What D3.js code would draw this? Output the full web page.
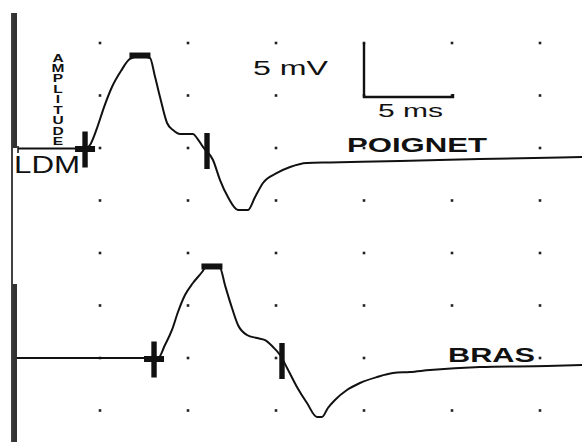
<!DOCTYPE html>
<html>
<head>
<meta charset="utf-8">
<script src="https://cdn.jsdelivr.net/npm/d3@7/dist/d3.min.js"></script>
<style>
  html, body { margin: 0; padding: 0; background: #fff; }
  svg { display: block; }
  text { font-family: "Liberation Sans", Arial, sans-serif; fill: #111; }
</style>
</head>
<body>
<div id="chart"></div>
<script>
// ---- Data ----
// Grid (one division = 5 ms horizontally, 5 mV vertically)
const gridTimes = [5, 10, 15, 20, 25, 30];            // ms
const gridLevels = [0, 5, 10, 15, 20, 25, 30, 35];     // mV below top row

// Trace labels
const traceNames = ["POIGNET", "BRAS"];
const traceOffsets = [10, 30];                         // baseline level (mV below top row)

// POIGNET trace (time ms, amplitude mV)
const poignetT = [0.34, 4.15, 4.43, 4.83, 5.23, 5.68, 6.19, 6.70, 7.27, 7.84, 8.13, 8.41, 8.81, 9.15, 9.55, 10.28, 10.51, 10.85, 11.42, 11.82, 12.27, 12.84, 13.41, 13.81, 14.26, 15.06, 15.80, 16.76, 18.07, 22.05, 26.59, 32.39];
const poignetV = [-0.05, -0.05, 0.29, 1.90, 3.90, 5.81, 7.33, 8.48, 8.76, 8.57, 6.76, 4.86, 2.38, 1.71, 1.33, 1.33, 0.95, 0.10, -1.14, -3.05, -4.67, -5.90, -5.90, -4.67, -3.33, -2.38, -1.81, -1.43, -1.38, -1.24, -1.05, -0.86];

// BRAS trace (time ms, amplitude mV)
const brasT = [0.28, 8.07, 8.30, 8.69, 9.09, 9.43, 9.83, 10.28, 10.80, 10.97, 11.36, 11.82, 12.10, 12.50, 12.84, 13.35, 13.92, 14.38, 14.83, 15.23, 15.63, 16.19, 16.76, 17.33, 17.61, 17.95, 18.35, 19.03, 19.77, 20.74, 21.65, 22.61, 23.75, 26.59, 30.40, 32.39];
const brasV = [0, 0, 0, 1.24, 2.67, 4.38, 6.00, 7.14, 8.19, 8.57, 8.67, 8.57, 6.95, 4.76, 3.14, 2.19, 1.90, 1.71, 1.05, 0.29, -0.95, -2.76, -4.29, -5.62, -5.62, -4.76, -4.00, -3.05, -2.38, -1.81, -1.43, -1.33, -1.14, -0.86, -0.76, -0.67];

// Markers: onset (+), peak (bar), negative onset (|) times in ms
const onsetTimes = [4.15, 8.07];
const peakTimes = [7.27, 11.36];
const negOnsetTimes = [11.08, 15.34];

// Scale bar
const scaleBarLabels = ["5 mV", "5 ms"];
const scaleBarSize = [5, 5]; // mV, ms

// ---- Drawing ----
const W = 582, H = 442;
const svg = d3.select("#chart").append("svg").attr("width", W).attr("height", H);

const x = d3.scaleLinear().domain([0, 30]).range([12, 540]);
const y = d3.scaleLinear().domain([0, 35]).range([43, 410.5]);

// grid dots
const dots = [];
gridTimes.forEach(t => gridLevels.forEach(l => dots.push([t, l])));
svg.append("g").selectAll("rect").data(dots).join("rect")
  .attr("x", d => x(d[0]) - 1.3).attr("y", d => y(d[1]) - 1.3)
  .attr("width", 2.6).attr("height", 2.6).attr("fill", "#222");

// left axis (stimulus edge)
const ax = svg.append("g");
ax.append("line").attr("x1", 12).attr("x2", 12).attr("y1", 13).attr("y2", H)
  .attr("stroke", "#111").attr("stroke-width", 1.6);
ax.append("rect").attr("x", 12.5).attr("y", 13).attr("width", 4.5).attr("height", 135).attr("fill", "#333");
ax.append("rect").attr("x", 12.5).attr("y", 284).attr("width", 4.5).attr("height", H - 284).attr("fill", "#333");
ax.append("line").attr("x1", 18).attr("x2", 18).attr("y1", 146).attr("y2", 153)
  .attr("stroke", "#111").attr("stroke-width", 1.5);

const traces = [
  { t: poignetT, v: poignetV },
  { t: brasT, v: brasV }
];

const line = d3.line().curve(d3.curveMonotoneX);

traces.forEach((tr, i) => {
  const off = traceOffsets[i];
  const pts = tr.t.map((t, k) => [x(t), y(off - tr.v[k])]);
  svg.append("path").attr("d", line(pts))
    .attr("fill", "none").attr("stroke", "#111").attr("stroke-width", 2)
    .attr("stroke-linejoin", "round");

  const g = svg.append("g").attr("fill", "#111");
  // onset cross
  const ox = x(onsetTimes[i]), oy = y(off) + 0.5;
  g.append("rect").attr("x", ox - 2.7).attr("y", oy - 17).attr("width", 5.4).attr("height", 36);
  g.append("rect").attr("x", ox - 10).attr("y", oy - 2.5).attr("width", 20).attr("height", 6);
  // peak bar
  const pv = d3.max(tr.v);
  const px = x(peakTimes[i]);
  g.append("rect").attr("x", px - 10.5).attr("y", y(off - pv) - 3.5).attr("width", 21).attr("height", 6);
  // negative onset bar
  const nx = x(negOnsetTimes[i]);
  g.append("rect").attr("x", nx - 2.7).attr("y", y(off) - 15).attr("width", 5.4).attr("height", 36);
});

// trace labels
const labelPos = [[347, 151.5, 140], [448, 362, 87]];
traceNames.forEach((name, i) => {
  svg.append("text").attr("x", labelPos[i][0]).attr("y", labelPos[i][1])
    .attr("font-size", 20).attr("font-weight", "bold")
    .attr("textLength", labelPos[i][2]).attr("lengthAdjust", "spacingAndGlyphs")
    .text(name);
});

// scale bar
const sbx = x(20), sby0 = y(0), sby1 = y(0 + scaleBarSize[0]) + 1.5;
svg.append("path")
  .attr("d", `M${sbx},${sby0}V${sby1}H${x(20 + scaleBarSize[1]) + 1}V${sby1 - 3}`)
  .attr("fill", "none").attr("stroke", "#111").attr("stroke-width", 2.4);
svg.append("text").attr("x", 253).attr("y", 75).attr("font-size", 19.5)
  .attr("textLength", 75).attr("lengthAdjust", "spacingAndGlyphs").text(scaleBarLabels[0]);
svg.append("text").attr("x", 378).attr("y", 117).attr("font-size", 18.5)
  .attr("textLength", 65).attr("lengthAdjust", "spacingAndGlyphs").text(scaleBarLabels[1]);

// LDM label
svg.append("text").attr("x", 14).attr("y", 172.5).attr("font-size", 23)
  .attr("textLength", 66).attr("lengthAdjust", "spacingAndGlyphs").text("LDM");

// AMPLITUDE stacked upright letters (single vertical text)
svg.append("text")
  .attr("transform", "translate(58,0) scale(1.35,1)")
  .attr("x", 0).attr("y", 51.5)
  .attr("font-size", 11.5).attr("font-weight", "bold")
  .style("writing-mode", "vertical-rl")
  .style("text-orientation", "upright")
  .attr("letter-spacing", -2.2)
  .text("AMPLITUDE");
</script>
</body>
</html>
